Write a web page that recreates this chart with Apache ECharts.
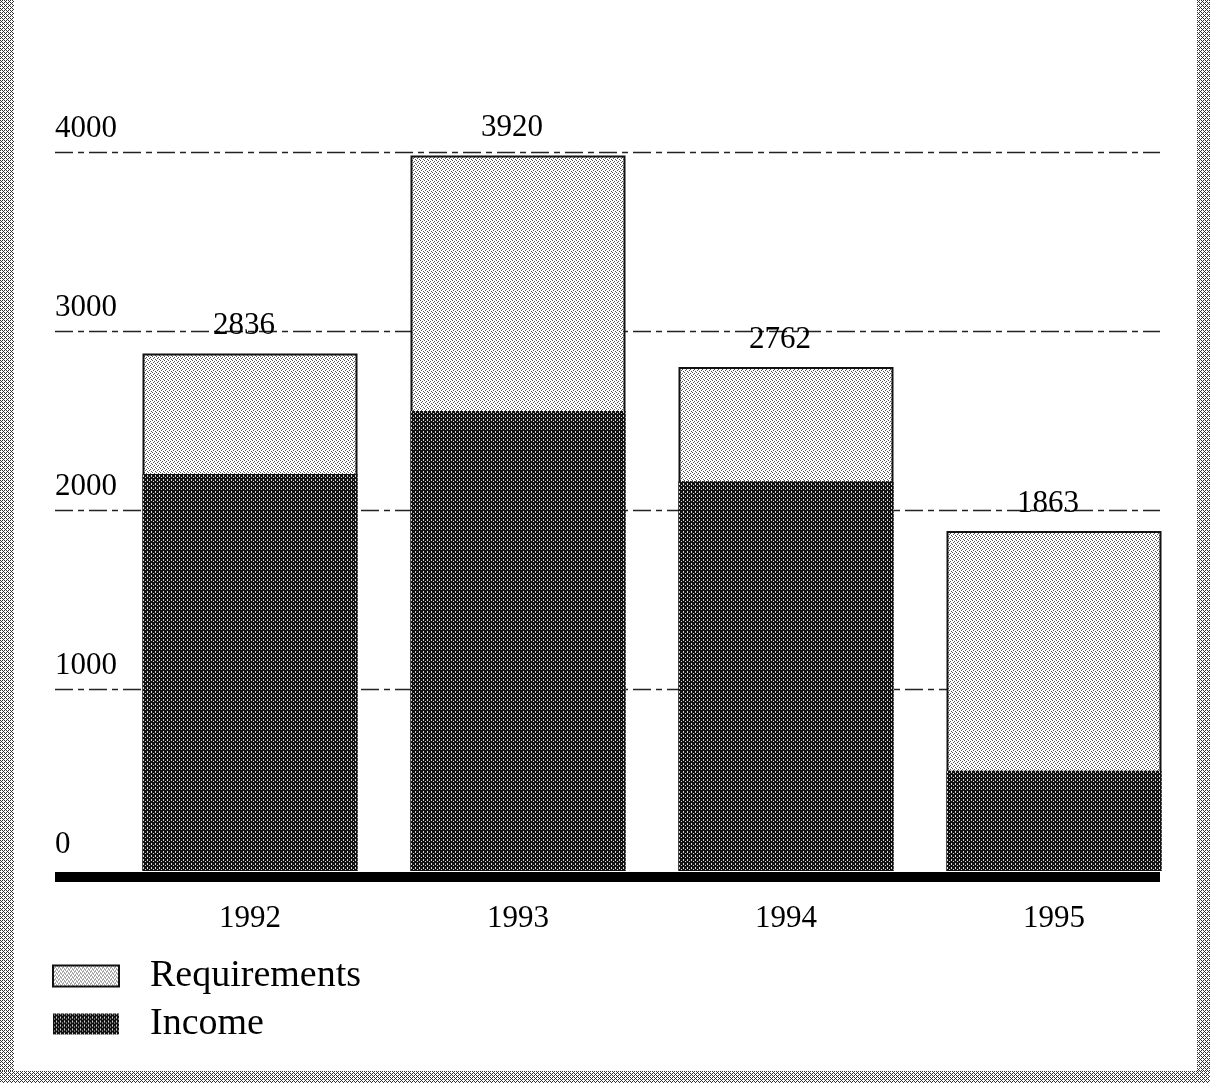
<!DOCTYPE html>
<html>
<head>
<meta charset="utf-8">
<style>
  html, body { margin: 0; padding: 0; background: #fff; }
  #chart { width: 1210px; height: 1083px; }
</style>
<script src="https://cdn.jsdelivr.net/npm/echarts@6/dist/echarts.min.js"></script>
</head>
<body>
<div id="chart"></div>
<script>
// ---- data ----
const years = ['1992', '1993', '1994', '1995'];
const requirements = [2836, 3920, 2762, 1863];
const income = [2175, 2520, 2135, 550];
const yTicks = [0, 1000, 2000, 3000, 4000];

// ---- stipple patterns ----
function pattern(size, bg, fg, pts) {
  const c = document.createElement('canvas');
  c.width = size; c.height = size;
  const g = c.getContext('2d');
  g.fillStyle = bg; g.fillRect(0, 0, size, size);
  g.fillStyle = fg;
  pts.forEach(p => g.fillRect(p[0], p[1], 1, 1));
  return { image: c, repeat: 'repeat' };
}
const lightPat = pattern(4, '#ffffff', '#555555', [[0,0],[2,1],[1,2],[3,3]]);
const darkPat = pattern(4, '#111111', '#d8d8d8', [[1,1],[3,3],[3,0]]);
const framePat = pattern(4, '#ffffff', '#333333', [[0,0],[1,1],[2,2],[3,3],[2,0],[0,2]]);

const serif = '"Liberation Serif", "DejaVu Serif", serif';

const chart = echarts.init(document.getElementById('chart'), null, { renderer: 'canvas' });

chart.setOption({
  backgroundColor: '#ffffff',
  animation: false,
  textStyle: { fontFamily: serif, color: '#000' },
  grid: [
    { left: 55, right: 50, top: 152, bottom: 1083 - 868.5 },   // gridlines + value labels
    { left: 116, right: 22, top: 141, bottom: 1083 - 871 }     // bars
  ],
  legend: {
    orient: 'vertical',
    left: 47,
    top: 952,
    itemWidth: 66,
    itemHeight: 21,
    itemGap: 10,
    icon: 'rect',
    textStyle: { fontFamily: serif, fontSize: 38, color: '#000', padding: [0, 0, 0, 26] },
    data: ['Requirements', 'Income']
  },
  xAxis: [
    {
      gridIndex: 0, type: 'category', data: years,
      offset: 8.5,
      axisLine: { show: true, onZero: false, lineStyle: { color: '#000', width: 10, cap: 'butt' } },
      axisTick: { show: false }, axisLabel: { show: false }, splitLine: { show: false }
    },
    {
      gridIndex: 1, type: 'category', data: years,
      axisLine: { show: false }, axisTick: { show: false },
      axisLabel: { fontFamily: serif, fontSize: 31, color: '#000', margin: 32 }
    }
  ],
  yAxis: [
    {
      gridIndex: 0, type: 'value', min: yTicks[0], max: yTicks[yTicks.length - 1], interval: 1000,
      axisLine: { show: false }, axisTick: { show: false },
      axisLabel: {
        inside: true, margin: 0, fontFamily: serif, fontSize: 31, color: '#000',
        verticalAlign: 'bottom', padding: [0, 0, 8, 0],
        formatter: v => String(v)
      },
      splitLine: {
        show: true,
        lineStyle: {
          color: ['rgba(0,0,0,0)', '#222', '#222', '#222', '#222'],
          width: 1.3, type: [18, 5, 6, 5]
        }
      }
    },
    {
      gridIndex: 1, type: 'value', min: 0, max: 4000,
      show: false, splitLine: { show: false }
    }
  ],
  series: [
    {
      name: 'Requirements', type: 'bar', xAxisIndex: 1, yAxisIndex: 1,
      data: requirements, barWidth: 215, barGap: '-100%',
      itemStyle: { color: lightPat, borderColor: '#111', borderWidth: 2 },
      label: {
        show: true, position: 'top', distance: 12, offset: [-6, 0],
        fontFamily: serif, fontSize: 31, color: '#000'
      },
      z: 2
    },
    {
      name: 'Income', type: 'bar', xAxisIndex: 1, yAxisIndex: 1,
      data: income, barWidth: 215, barGap: '-100%',
      itemStyle: { color: darkPat, borderWidth: 0 },
      z: 3
    }
  ],
  graphic: [
    { type: 'rect', left: 0, top: 0, shape: { width: 14, height: 1083 }, style: { fill: framePat }, silent: true },
    { type: 'rect', left: 1197, top: 0, shape: { width: 13, height: 1083 }, style: { fill: framePat }, silent: true },
    { type: 'rect', left: 0, top: 1071, shape: { width: 1210, height: 12 }, style: { fill: framePat }, silent: true }
  ]
});
</script>
</body>
</html>
